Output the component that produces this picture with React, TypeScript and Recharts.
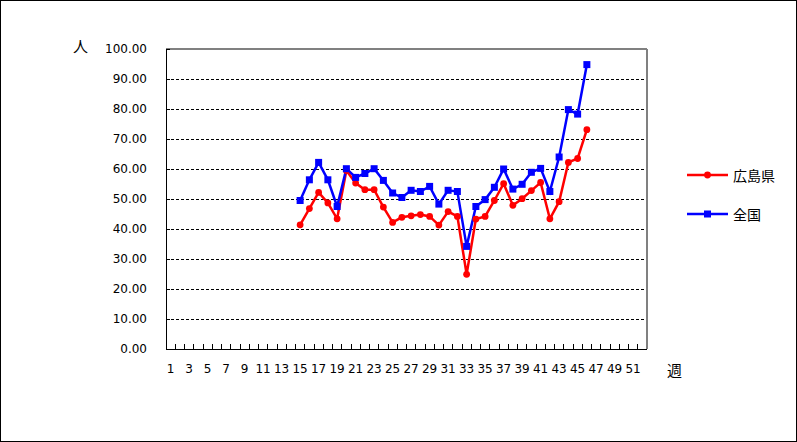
import React from "react";
import { LineChart, Line, XAxis, YAxis, CartesianGrid, Legend } from "recharts";

const weeks = [
  1, 2, 3, 4, 5, 6, 7, 8, 9, 10, 11, 12, 13, 14, 15, 16, 17, 18, 19, 20, 21, 22, 23, 24, 25, 26,
  27, 28, 29, 30, 31, 32, 33, 34, 35, 36, 37, 38, 39, 40, 41, 42, 43, 44, 45, 46, 47, 48, 49, 50,
  51, 52,
];

// weeks 1..52 (null = no data)
const hiroshima: (number | null)[] = [
  null, null, null, null, null, null, null, null, null, null, null, null, null, null,
  41.4, 46.8, 52.2, 48.7, 43.4, 59.5, 55.3, 53.1, 53.1, 47.3, 42.2, 43.9, 44.4, 44.8, 44.2, 41.3,
  45.8, 44.2, 24.9, 43.3, 44.2, 49.5, 55.1, 47.9, 50.1, 52.8, 55.5, 43.4, 49.1, 62.2, 63.5, 73.1,
  null, null, null, null, null, null,
];

const national: (number | null)[] = [
  null, null, null, null, null, null, null, null, null, null, null, null, null, null,
  49.5, 56.4, 62.2, 56.4, 47.5, 60.1, 57.2, 58.5, 60.1, 56.2, 52.0, 50.5, 52.9, 52.5, 54.2, 48.3,
  52.9, 52.5, 34.2, 47.5, 49.8, 53.9, 60.0, 53.3, 54.9, 58.9, 60.2, 52.5, 64.0, 79.8, 78.3, 94.8,
  null, null, null, null, null, null,
];

const yTicks = [0, 10, 20, 30, 40, 50, 60, 70, 80, 90, 100];
const seriesNames = { hiroshima: "広島県", national: "全国" };

const data = weeks.map((w, i) => ({ week: w, hiroshima: hiroshima[i], national: national[i] }));

const W = 797;
const H = 442;
const PLOT_LEFT = 166;
const PLOT_TOP = 49;
const PLOT_RIGHT = 647;
const PLOT_BOTTOM = 349;
const BAND = (PLOT_RIGHT - PLOT_LEFT) / weeks.length;
const NUM_FONT = "'DejaVu Sans', sans-serif";
const CJK_FONT = "'Noto Sans CJK JP', sans-serif";
const RED = "#FF0000";
const BLUE = "#0000FF";

const XTick = (props: any) => {
  const { x, y, payload, index } = props;
  return (
    <g>
      {index > 0 && (
        <line x1={x - BAND / 2} x2={x - BAND / 2} y1={y - 5} y2={y} stroke="#000" strokeWidth={1} shapeRendering="crispEdges" />
      )}
      {payload.value % 2 === 1 && (
        <text x={x} y={y + 24} textAnchor="middle" fontSize={12} fontFamily={NUM_FONT} fill="#000">
          {payload.value}
        </text>
      )}
    </g>
  );
};

const YTick = (props: any) => {
  const { x, y, payload } = props;
  return (
    <g>
      <line x1={x} x2={x + 4} y1={y} y2={y} stroke="#000" strokeWidth={1} shapeRendering="crispEdges" />
      <text x={x - 19} y={y} dy={4.4} textAnchor="end" fontSize={12} fontFamily={NUM_FONT} fill="#000">
        {Number(payload.value).toFixed(2)}
      </text>
    </g>
  );
};

const RedDot = (props: any) => {
  const { cx, cy, index } = props;
  if (cx == null || cy == null || props.value == null) return <g key={`r${index}`} />;
  return <circle key={`r${index}`} cx={cx} cy={cy} r={3.4} fill={RED} stroke="none" />;
};

const BlueDot = (props: any) => {
  const { cx, cy, index } = props;
  if (cx == null || cy == null || props.value == null) return <g key={`b${index}`} />;
  return <rect key={`b${index}`} x={cx - 3.5} y={cy - 3.5} width={7} height={7} fill={BLUE} stroke="none" />;
};

const LegendContent = () => {
  const items = [
    { name: seriesNames.hiroshima, color: RED, shape: "circle" },
    { name: seriesNames.national, color: BLUE, shape: "square" },
  ];
  return (
    <div style={{ width: 100 }}>
      {items.map((it, i) => (
        <div key={it.name} style={{ display: "flex", alignItems: "center", height: 20, marginTop: i === 0 ? 0 : 19.3 }}>
          <svg width={46} height={20} style={{ display: "block" }}>
            <line x1={0} x2={41} y1={10} y2={10} stroke={it.color} strokeWidth={2.5} />
            {it.shape === "circle" ? (
              <circle cx={20.5} cy={10} r={3.4} fill={it.color} />
            ) : (
              <rect x={17} y={6.5} width={7} height={7} fill={it.color} />
            )}
          </svg>
          <span style={{ fontFamily: CJK_FONT, fontSize: 14, color: "#000", lineHeight: "20px" }}>{it.name}</span>
        </div>
      ))}
    </div>
  );
};

export default function App() {
  return (
    <div style={{ position: "absolute", left: 0, top: 0, width: W, height: H, background: "#fff" }}>
      <LineChart
        width={W}
        height={H}
        data={data}
        margin={{ top: PLOT_TOP - 1, left: PLOT_LEFT - 60, right: W - PLOT_RIGHT - 1, bottom: H - PLOT_BOTTOM - 30 }}
      >
        <CartesianGrid vertical={false} stroke="#000" strokeDasharray="3 2" strokeWidth={1} shapeRendering="crispEdges" />
        <XAxis
          dataKey="week"
          xAxisId="top"
          orientation="top"
          height={1}
          tick={false}
          tickLine={false}
          axisLine={{ stroke: "#808080", strokeWidth: 2, shapeRendering: "crispEdges" }}
          padding={{ left: BAND / 2, right: BAND / 2 }}
        />
        <XAxis
          dataKey="week"
          height={30}
          interval={0}
          tickSize={0}
          tickMargin={0}
          tickLine={false}
          tick={<XTick />}
          axisLine={{ stroke: "#000", strokeWidth: 1, shapeRendering: "crispEdges" }}
          padding={{ left: BAND / 2, right: BAND / 2 }}
        />
        <YAxis
          width={60}
          domain={[0, 100]}
          ticks={yTicks}
          interval={0}
          tickSize={0}
          tickMargin={0}
          tickLine={false}
          tick={<YTick />}
          axisLine={{ stroke: "#000", strokeWidth: 1, shapeRendering: "crispEdges" }}
        />
        <YAxis
          yAxisId="right"
          orientation="right"
          width={1}
          domain={[0, 100]}
          tick={false}
          tickLine={false}
          axisLine={{ stroke: "#808080", strokeWidth: 2, shapeRendering: "crispEdges" }}
        />
        <Line
          dataKey="hiroshima"
          name={seriesNames.hiroshima}
          stroke={RED}
          strokeWidth={2.5}
          dot={RedDot}
          activeDot={false}
          isAnimationActive={false}
        />
        <Line
          dataKey="national"
          name={seriesNames.national}
          stroke={BLUE}
          strokeWidth={2.5}
          dot={BlueDot}
          activeDot={false}
          isAnimationActive={false}
        />
        <Legend
          layout="vertical"
          align="center"
          verticalAlign="middle"
          content={<LegendContent />}
          wrapperStyle={{ left: 687, top: 165, width: 100 }}
        />
      </LineChart>
      <span
        style={{ position: "absolute", left: 73, top: 36, fontFamily: CJK_FONT, fontSize: 15, lineHeight: "20px", color: "#000" }}
      >
        人
      </span>
      <span
        style={{ position: "absolute", left: 667, top: 360, fontFamily: CJK_FONT, fontSize: 15, lineHeight: "20px", color: "#000" }}
      >
        週
      </span>
      <div
        style={{ position: "absolute", left: 0, top: 0, width: W, height: H, border: "1px solid #000", boxSizing: "border-box", pointerEvents: "none" }}
      />
    </div>
  );
}
